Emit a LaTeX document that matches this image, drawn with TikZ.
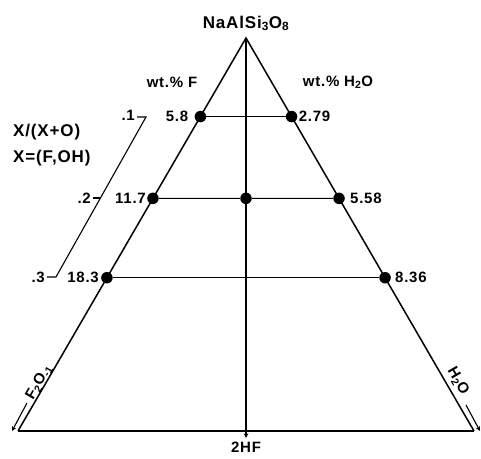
\documentclass[tikz,border=0pt]{standalone}
\usepackage{fontspec}
\setmainfont[LetterSpace=5]{Liberation Sans}
\usetikzlibrary{arrows, positioning, calc}

\begin{document}
\begin{tikzpicture}[
    x=1pt, y=-1pt,
    font=\bfseries\fontsize{15}{17}\selectfont,
    side/.style={line width=1.5pt},
    tie/.style={line width=1.1pt},
    dot/.style={circle, fill=black, inner sep=0pt, minimum size=11.5pt},
    lbl/.style={inner sep=1pt},
    big/.style={lbl, font=\bfseries\fontsize{17}{19}\selectfont},
    arrow/.style={line width=1.1pt,->,>=stealth}
]
\useasboundingbox (0,0) rectangle (481,458);

% corners of the triangle
\coordinate (apex) at (246,38);
\coordinate (lc) at (18,431);
\coordinate (rc) at (474,431);
\coordinate (bc) at (246,438);

\node (top) [big, above=6pt of apex] {NaAlSi\textsubscript{3}O\textsubscript{8}};
\node (hf) [lbl, below=3pt of bc] {2HF};

% points on the two sides
\node (f1) [dot] at ($(apex)!0.2!(lc)$) {};
\node (f2) [dot] at ($(apex)!0.408!(lc)$) {};
\node (f3) [dot] at ($(apex)!0.61!(lc)$) {};
\node (w1) [dot] at ($(apex)!0.2!(rc)$) {};
\node (w2) [dot] at ($(apex)!0.408!(rc)$) {};
\node (w3) [dot] at ($(apex)!0.61!(rc)$) {};
\node (m2) [dot] at ($(f2)!0.5!(w2)$) {};

\draw[side] (lc) -- (apex) -- (rc);
\draw[side] (lc) -- (rc);
\draw[arrow] (apex) -- (bc);

\draw[tie] (f1) -- (w1);
\draw[tie] (f2) -- (m2) -- (w2);
\draw[tie] (f3) -- (w3);

\node (wf) [lbl] at (172,82) {wt.\% F};
\node (wh) [lbl] at (338,82) {wt.\% H\textsubscript{2}O};

\node (f1l) [lbl, left=5pt of f1] {5.8};
\node (f2l) [lbl, left=0pt of f2] {11.7};
\node (f3l) [lbl, left=1pt of f3] {18.3};
\node (w1l) [lbl, right=0pt of w1] {2.79};
\node (w2l) [lbl, right=4pt of w2] {5.58};
\node (w3l) [lbl, right=3pt of w3] {8.36};

% X/(X+O) scale
\coordinate (s1) at (146,117);
\coordinate (s2) at (100,198);
\coordinate (s3) at (56,277);
\coordinate (t1) at (137,117);
\coordinate (t2) at (93,198);
\coordinate (t3) at (47,277);
\draw[tie] (t1) -- (s1) -- (s3) -- (t3);
\draw[tie] (t2) -- (s2);
\node (r1) [lbl, left=1pt of t1, yshift=2pt] {.1};
\node (r2) [lbl, left=1pt of t2] {.2};
\node (r3) [lbl, left=1pt of t3] {.3};
\node (xr) [big, anchor=west] at (12,132) {X/(X+O)};
\node (xd) [big, anchor=west] at (12,158) {X=(F,OH)};

% end members
\coordinate (fa) at (27,403);
\coordinate (fb) at (12,431);
\coordinate (ha) at (466,405);
\coordinate (hb) at (480,431);
\draw[arrow] (fa) -- (fb);
\draw[arrow] (ha) -- (hb);
\node (fo) [lbl, rotate=60] at (39,382) {F\textsubscript{2}O\textsubscript{-1}};
\node (ho) [lbl, rotate=-60] at (458,381) {H\textsubscript{2}O};

\end{tikzpicture}
\end{document}
